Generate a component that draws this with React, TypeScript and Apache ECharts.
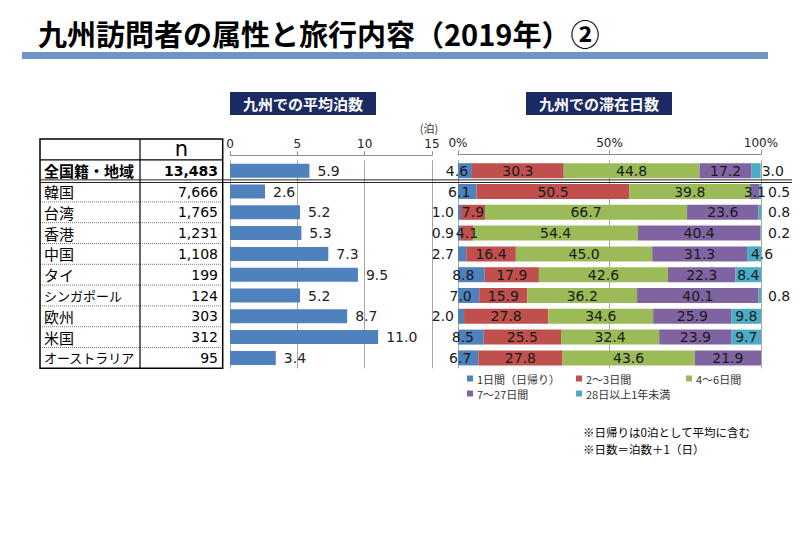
import React, { useEffect, useRef } from 'react';
import * as echarts from 'echarts';

// ---- data ----
const categories = ['全国籍・地域', '韓国', '台湾', '香港', '中国', 'タイ', 'シンガポール', '欧州', '米国', 'オーストラリア'];
const sampleSizes = [13483, 7666, 1765, 1231, 1108, 199, 124, 303, 312, 95];
const avgNights = [5.9, 2.6, 5.2, 5.3, 7.3, 9.5, 5.2, 8.7, 11.0, 3.4];
const nightAxis = { min: 0, max: 15, interval: 5 };
const pctAxis = { min: 0, max: 100, interval: 50 };
const stayNames = ['1日間（日帰り）', '2～3日間', '4～6日間', '7～27日間', '28日以上1年未満'];
const stayDay1 = [4.6, 6.1, 1.0, 0.9, 2.7, 8.8, 7.0, 2.0, 8.5, 6.7];
const stayDay2to3 = [30.3, 50.5, 7.9, 4.1, 16.4, 17.9, 15.9, 27.8, 25.5, 27.8];
const stayDay4to6 = [44.8, 39.8, 66.7, 54.4, 45.0, 42.6, 36.2, 34.6, 32.4, 43.6];
const stayDay7to27 = [17.2, 3.1, 23.6, 40.4, 31.3, 22.3, 40.1, 25.9, 23.9, 21.9];
const stayDay28plus = [3.0, 0.5, 0.8, 0.2, 4.6, 8.4, 0.8, 9.8, 9.7, 0];
const titleText = '九州訪問者の属性と旅行内容（2019年）②';
const leftHeader = '九州での平均泊数';
const rightHeader = '九州での滞在日数';
const notes = ['※日帰りは0泊として平均に含む', '※日数＝泊数＋1（日）'];

const stayColors = ['#4f81bd', '#c0504d', '#9bbb59', '#8064a2', '#4bacc6'];
const FONT_LATIN = "'DejaVu Sans', 'Noto Sans CJK JP', sans-serif";
const FONT_JP = "'Noto Sans CJK JP', sans-serif";

export default function App() {
  const ref = useRef<HTMLDivElement>(null);

  useEffect(() => {
    if (!ref.current) return;
    const chart = echarts.init(ref.current, undefined, { renderer: 'svg' });

    const TOP = 160.3;
    const H = 208;
    const BAND = H / categories.length;
    const stayData = [stayDay1, stayDay2to3, stayDay4to6, stayDay7to27, stayDay28plus];

    const stayLabel = (si: number, v: number): any => {
      if (!v) return { show: false };
      if (si === 0) {
        if (v < 3) return { position: 'left', distance: 4 };
        return { position: 'inside', offset: [-8, 0] };
      }
      if (si === 4) {
        if (v < 2) return { position: 'right', distance: 7 };
        if (v < 4) return { position: 'right', distance: 1 };
        if (v < 6) return { position: 'inside', offset: [8, 0] };
      }
      return {};
    };

    const graphics: any[] = [];
    // title
    graphics.push({
      type: 'text', x: 38, y: 33,
      style: { text: titleText, font: `bold 29px ${FONT_JP}`, fill: '#000', verticalAlign: 'middle' },
    });
    graphics.push({ type: 'rect', shape: { x: 22, y: 52, width: 746, height: 7 }, style: { fill: '#6f95c6' } });
    // header boxes
    [[230, leftHeader], [526, rightHeader]].forEach(([x, t]: any) => {
      graphics.push({ type: 'rect', shape: { x, y: 92, width: 146, height: 23 }, style: { fill: '#1c2a63' } });
      graphics.push({
        type: 'text', x: x + 73, y: 103.5,
        style: { text: t, font: `bold 15px ${FONT_JP}`, fill: '#fff', align: 'center', verticalAlign: 'middle' },
      });
    });
    graphics.push({
      type: 'text', x: 429, y: 128,
      style: { text: '(泊)', font: `11px ${FONT_JP}`, fill: '#333', align: 'center', verticalAlign: 'middle' },
    });
    // table
    const tx0 = 40, tx1 = 140, tx2 = 222.7, tyTop = 139, tyBottom = TOP + H;
    graphics.push({
      type: 'text', x: (tx1 + tx2) / 2, y: 149,
      style: { text: 'n', font: `21px ${FONT_LATIN}`, fill: '#000', align: 'center', verticalAlign: 'middle' },
    });
    for (let i = 2; i < categories.length; i++) {
      const y = TOP + BAND * i;
      graphics.push({
        type: 'line', shape: { x1: tx0, y1: y, x2: tx2, y2: y },
        style: { stroke: '#777', lineWidth: 1, lineDash: [1, 1] }, z: 20,
      });
    }
    graphics.push({
      type: 'rect', shape: { x: tx0, y: tyTop, width: tx2 - tx0, height: tyBottom - tyTop },
      style: { fill: 'none', stroke: '#000', lineWidth: 1.5 }, z: 21,
    });
    graphics.push({
      type: 'line', shape: { x1: tx1, y1: tyTop, x2: tx1, y2: tyBottom },
      style: { stroke: '#000', lineWidth: 1.2 }, z: 21,
    });
    graphics.push({
      type: 'line', shape: { x1: tx0, y1: TOP - 0.5, x2: tx2, y2: TOP - 0.5 },
      style: { stroke: '#000', lineWidth: 1.2 }, z: 21,
    });
    // double separator line below the total row
    const sepY = TOP + BAND;
    [sepY - 1.2, sepY + 1.4].forEach((y) => {
      graphics.push({
        type: 'line', shape: { x1: tx0, y1: y, x2: 792, y2: y },
        style: { stroke: '#222', lineWidth: 1 }, z: 22,
      });
    });
    // notes
    notes.forEach((t, i) => {
      graphics.push({
        type: 'text', x: 583, y: 432 + i * 16.5,
        style: { text: t, font: `11.5px ${FONT_JP}`, fill: '#000', verticalAlign: 'middle' },
      });
    });

    const legendX = [467, 576, 686, 467, 576];
    const legendY = [373, 373, 373, 388, 388];

    const option: any = {
      animation: false,
      backgroundColor: '#fff',
      textStyle: { fontFamily: FONT_LATIN },
      grid: [
        { left: 230, top: TOP, width: 202, height: H, containLabel: false },
        { left: 458, top: TOP, width: 303, height: H, containLabel: false },
      ],
      legend: stayNames.map((name, i) => ({
        data: [name],
        left: legendX[i],
        top: legendY[i],
        icon: 'rect',
        itemWidth: 6,
        itemHeight: 6,
        selectedMode: false,
        padding: 0,
        textStyle: { fontSize: 11, color: '#333', fontFamily: FONT_JP, padding: [0, 0, 0, -1] },
      })),
      xAxis: [
        {
          gridIndex: 0, type: 'value', position: 'top', offset: 5,
          min: nightAxis.min, max: nightAxis.max, interval: nightAxis.interval,
          axisLine: { show: true, lineStyle: { color: '#8c8c8c' } },
          axisTick: { show: true, length: 4, lineStyle: { color: '#8c8c8c' } },
          axisLabel: { fontSize: 12, color: '#222', margin: 5, fontFamily: FONT_LATIN },
          splitLine: { show: true, lineStyle: { color: '#a6a6a6', width: 1 } },
        },
        {
          gridIndex: 1, type: 'value', position: 'top', offset: 6,
          min: pctAxis.min, max: pctAxis.max, interval: pctAxis.interval,
          axisLine: { show: true, lineStyle: { color: '#8c8c8c' } },
          axisTick: { show: true, length: 4, lineStyle: { color: '#8c8c8c' } },
          axisLabel: { fontSize: 12, color: '#222', margin: 5, formatter: '{value}%', fontFamily: FONT_LATIN },
          splitLine: { show: true, lineStyle: { color: '#a6a6a6', width: 1 } },
        },
      ],
      yAxis: [
        {
          gridIndex: 0, type: 'category', data: categories, inverse: true, position: 'left',
          axisLine: { show: false }, axisTick: { show: false },
          axisLabel: {
            interval: 0, align: 'left', margin: 186, color: '#000',
            formatter: (v: string, i: number) => (i === 0 ? `{b|${v}}` : v.length >= 6 ? `{s|${v}}` : `{n|${v}}`),
            rich: {
              b: { fontSize: 15, fontWeight: 'bold', fontFamily: FONT_JP, color: '#000' },
              s: { fontSize: 13, fontFamily: FONT_JP, color: '#000' },
              n: { fontSize: 15, fontFamily: FONT_JP, color: '#000' },
            },
          },
        },
        {
          gridIndex: 0, type: 'category', data: sampleSizes.map((n) => n.toLocaleString('en-US')),
          inverse: true, position: 'left',
          axisLine: { show: false }, axisTick: { show: false },
          axisLabel: {
            interval: 0, align: 'right', margin: 12, color: '#000',
            formatter: (v: string, i: number) => (i === 0 ? `{b|${v}}` : `{n|${v}}`),
            rich: {
              b: { fontSize: 14, fontWeight: 'bold', fontFamily: FONT_LATIN, color: '#000' },
              n: { fontSize: 14, fontFamily: FONT_LATIN, color: '#000' },
            },
          },
        },
        {
          gridIndex: 1, type: 'category', data: categories, inverse: true,
          axisLine: { show: false }, axisTick: { show: false }, axisLabel: { show: false },
        },
      ],
      series: [
        {
          name: '平均泊数', type: 'bar', xAxisIndex: 0, yAxisIndex: 0,
          data: avgNights, barWidth: 14,
          itemStyle: { color: '#4f81bd' },
          label: {
            show: true, position: 'right', distance: 8, fontSize: 14, color: '#222',
            fontFamily: FONT_LATIN, formatter: (p: any) => Number(p.value).toFixed(1),
          },
        },
        ...stayNames.map((name, si) => ({
          name, type: 'bar', stack: 'stay', xAxisIndex: 1, yAxisIndex: 2,
          barWidth: 15,
          itemStyle: { color: stayColors[si] },
          label: {
            show: true, position: 'inside', fontSize: 14, color: '#1a1a1a', fontFamily: FONT_LATIN,
            formatter: (p: any) => (p.value ? Number(p.value).toFixed(1) : ''),
          },
          data: stayData[si].map((v) => ({ value: v, label: stayLabel(si, v) })),
        })),
      ],
      graphic: graphics,
    };

    chart.setOption(option);
    return () => chart.dispose();
  }, []);

  return (
    <div
      ref={ref}
      style={{ position: 'fixed', left: 0, top: 0, width: 800, height: 553, background: '#fff' }}
    />
  );
}
